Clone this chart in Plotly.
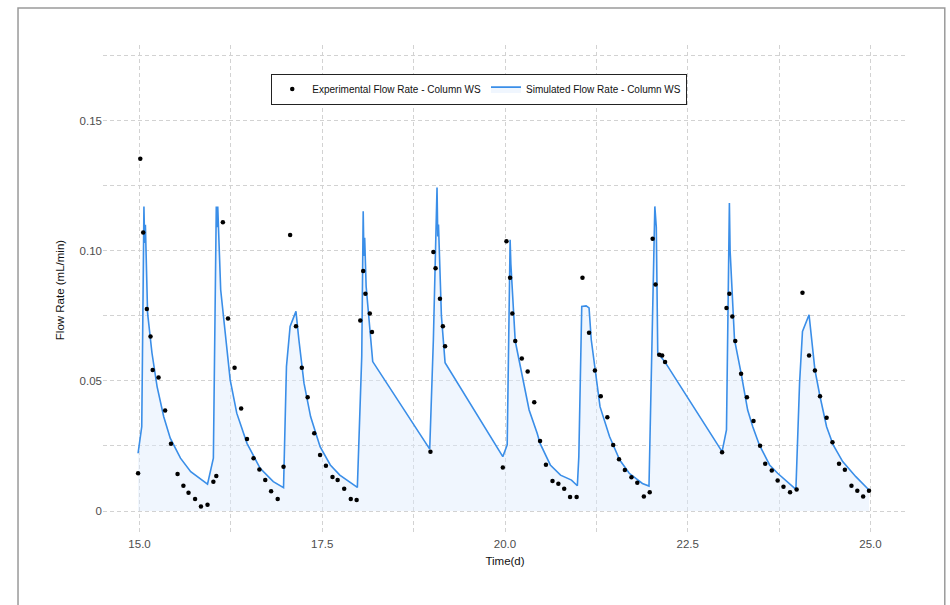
import plotly.graph_objects as go

# Experimental flow rate (points)
exp_time = [14.98, 15.01, 15.05, 15.10, 15.15, 15.18, 15.26, 15.35, 15.43, 15.52, 15.60, 15.67, 15.76, 15.84, 15.93,
            16.01, 16.05, 16.14, 16.21, 16.30, 16.39, 16.47, 16.56, 16.64, 16.72, 16.80, 16.89, 16.97,
            17.06, 17.14, 17.22, 17.30, 17.39, 17.47, 17.55, 17.64, 17.71, 17.80, 17.89, 17.97,
            18.02, 18.06, 18.09, 18.15, 18.18, 18.98, 19.02, 19.05, 19.11, 19.15, 19.18,
            19.97, 20.02, 20.07, 20.10, 20.14, 20.23, 20.31, 20.40, 20.48, 20.56, 20.65, 20.73, 20.81, 20.89, 20.98,
            21.06, 21.15, 21.23, 21.31, 21.40, 21.48, 21.56, 21.64, 21.73, 21.81, 21.90, 21.98,
            22.02, 22.06, 22.11, 22.15, 22.19, 22.97, 23.03, 23.07, 23.11, 23.15, 23.23, 23.31,
            23.40, 23.49, 23.56, 23.65, 23.73, 23.81, 23.90, 23.99,
            24.07, 24.16, 24.24, 24.31, 24.40, 24.48, 24.57, 24.65, 24.74, 24.82, 24.90, 24.98]
exp_flow = [0.0145, 0.1353, 0.107, 0.0776, 0.067, 0.0542, 0.0513, 0.0386, 0.0258, 0.0142, 0.0097, 0.007, 0.0046, 0.0017, 0.0024,
            0.0113, 0.0135, 0.1109, 0.074, 0.055, 0.0394, 0.0277, 0.0203, 0.016, 0.0119, 0.0076, 0.0046, 0.017,
            0.106, 0.071, 0.055, 0.0437, 0.0299, 0.0215, 0.0174, 0.0131, 0.0119, 0.0086, 0.0046, 0.0042,
            0.0732, 0.0922, 0.0835, 0.0759, 0.0688, 0.0228, 0.0995, 0.0933, 0.0815, 0.071, 0.0633,
            0.0167, 0.1036, 0.0896, 0.0759, 0.0653, 0.0586, 0.0536, 0.0418, 0.0269, 0.0178, 0.0115, 0.0105, 0.0086, 0.0054, 0.0054,
            0.0896, 0.0685, 0.054, 0.0441, 0.036, 0.0254, 0.0199, 0.0158, 0.013, 0.0109, 0.0056, 0.0072,
            0.1046, 0.087, 0.060, 0.0597, 0.0572, 0.0226, 0.078, 0.0835, 0.0747, 0.0653, 0.0527, 0.0437,
            0.0346, 0.0251, 0.0182, 0.0156, 0.0117, 0.0093, 0.0072, 0.0083,
            0.0838, 0.0597, 0.054, 0.0441, 0.0358, 0.0264, 0.0182, 0.0159, 0.0097, 0.0078, 0.0056, 0.0078]

# Simulated flow rate (line)
sim_time = [14.98, 15.03, 15.04, 15.05, 15.06, 15.07, 15.08, 15.11, 15.17, 15.24, 15.33, 15.42, 15.56, 15.70, 15.93,
            16.01, 16.03, 16.05, 16.06, 16.07, 16.11, 16.18, 16.24, 16.33, 16.47, 16.65, 16.83, 16.97,
            17.01, 17.06, 17.14, 17.18, 17.25, 17.34, 17.47, 17.61, 17.74, 17.98,
            18.04, 18.06, 18.07, 18.08, 18.10, 18.19, 18.97,
            19.02, 19.07, 19.08, 19.09, 19.13, 19.18, 19.97,
            20.03, 20.07, 20.08, 20.14, 20.23, 20.33, 20.44, 20.48, 20.62, 20.76, 20.91, 20.99,
            21.01, 21.03, 21.05, 21.11, 21.15, 21.18, 21.25, 21.30, 21.43, 21.57, 21.70, 21.88, 21.97,
            22.01, 22.05, 22.07, 22.09, 22.19, 22.97,
            23.03, 23.05, 23.07, 23.08, 23.14, 23.23, 23.32, 23.39, 23.48, 23.62, 23.73, 23.98,
            24.03, 24.07, 24.16, 24.24, 24.31, 24.40, 24.49, 24.62, 24.80, 24.98]
sim_flow = [0.0222, 0.0324, 0.060, 0.0888, 0.117, 0.103, 0.110, 0.076, 0.0607, 0.0478, 0.0363, 0.028, 0.0203, 0.0151, 0.0103,
            0.0203, 0.085, 0.117, 0.109, 0.117, 0.085, 0.0658, 0.0504, 0.0376, 0.026, 0.0164, 0.0113, 0.009,
            0.0555, 0.0709, 0.0767, 0.0658, 0.0491, 0.0363, 0.0247, 0.0177, 0.0138, 0.0091,
            0.0593, 0.1151, 0.098, 0.105, 0.0863, 0.0574, 0.0238,
            0.0658, 0.1243, 0.1055, 0.110, 0.075, 0.057, 0.0209,
            0.0254, 0.1042, 0.095, 0.0653, 0.053, 0.0388, 0.0299, 0.026, 0.0177, 0.0138, 0.0119, 0.0097,
            0.0209, 0.0555, 0.0786, 0.0788, 0.078, 0.0658, 0.0504, 0.0401, 0.0286, 0.0196, 0.0145, 0.0106, 0.0096,
            0.0632, 0.117, 0.109, 0.0607, 0.0572, 0.0228,
            0.0312, 0.085, 0.1183, 0.100, 0.0658, 0.053, 0.0388, 0.0324, 0.0254, 0.0177, 0.0145, 0.0083,
            0.0491, 0.069, 0.0754, 0.0542, 0.044, 0.0324, 0.0254, 0.019, 0.0132, 0.0081]

x_tickvals = [15.0, 17.5, 20.0, 22.5, 25.0]
x_ticktext = ["15.0", "17.5", "20.0", "22.5", "25.0"]
y_tickvals = [0, 0.05, 0.10, 0.15]
y_ticktext = ["0", "0.05", "0.10", "0.15"]

FONT = "Liberation Sans Narrow, Arial Narrow, Liberation Sans, Arial, sans-serif"
GRID = "#d2d2d2"
DASH = "4px,3px"

fig = go.Figure()
fig.add_trace(go.Scatter(
    x=sim_time, y=sim_flow, mode="lines",
    line=dict(color="#3a8ee8", width=1.6),
    fill="tozeroy", fillcolor="rgba(222,236,252,0.45)",
    name="Simulated Flow Rate - Column WS", legendrank=2,
))
fig.add_trace(go.Scatter(
    x=exp_time, y=exp_flow, mode="markers",
    marker=dict(color="black", size=4.5),
    name="Experimental Flow Rate - Column WS", legendrank=1,
))

fig.update_layout(
    width=950, height=605,
    margin=dict(l=103, r=43, t=45, b=70),
    paper_bgcolor="white", plot_bgcolor="white",
    font=dict(family=FONT, color="#222222", size=11),
    showlegend=True,
    legend=dict(
        orientation="h", x=0.468, y=0.91, xanchor="center", yanchor="middle",
        bgcolor="white", bordercolor="#222222", borderwidth=1,
        font=dict(family=FONT, size=10, color="#111111"),
        itemwidth=30, tracegroupgap=0,
    ),
    xaxis=dict(
        range=[14.5, 25.5], tickvals=x_tickvals, ticktext=x_ticktext,
        showgrid=True, gridcolor=GRID, griddash=DASH, gridwidth=1,
        minor=dict(dtick=1.25, tick0=15, showgrid=True, gridcolor=GRID, griddash=DASH, gridwidth=1),
        zeroline=False, showline=False,
        ticks="", tickfont=dict(color="#4d4d4d", size=11.5, family=FONT),
        title=dict(text="Time(d)", font=dict(size=11.5, color="#111111", family=FONT), standoff=8),
    ),
    yaxis=dict(
        range=[-0.0092, 0.179], tickvals=y_tickvals, ticktext=y_ticktext,
        showgrid=True, gridcolor=GRID, griddash=DASH, gridwidth=1,
        minor=dict(dtick=0.025, tick0=0, showgrid=True, gridcolor=GRID, griddash=DASH, gridwidth=1),
        zeroline=False, showline=False,
        ticks="", tickfont=dict(color="#4d4d4d", size=11.5, family=FONT),
        title=dict(text="Flow Rate (mL/min)", font=dict(size=11.5, color="#111111", family=FONT), standoff=12),
    ),
    shapes=[dict(type="rect", xref="paper", yref="paper",
                 x0=-0.1057, x1=1.047, y0=-0.16, y1=1.0755,
                 line=dict(color="#9a9a9a", width=1.5), fillcolor="rgba(0,0,0,0)", layer="below")],
)

fig.write_html("out.html")
